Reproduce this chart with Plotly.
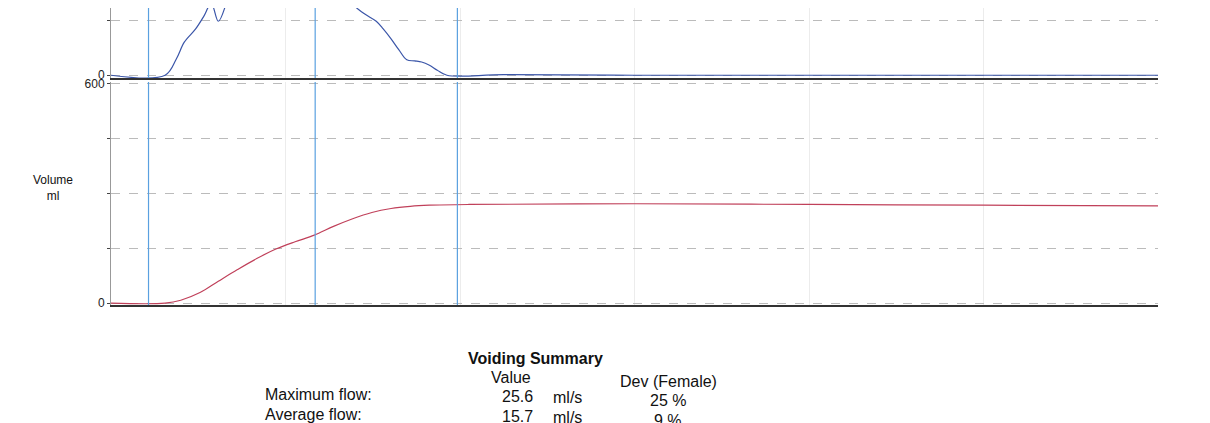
import plotly.graph_objects as go
from plotly.subplots import make_subplots

# flow curve (ml/s) vs time (s); peak is off the top of the cropped page
flow_t = [0, 6.2, 7.5, 8.4, 9.7, 10.6, 11.5, 12.3, 13.2, 15, 18, 20, 23, 26, 27.7,
          29, 30.4, 31.2, 32.1, 33.0, 33.9, 34.8, 35.6, 36.5, 37.4, 38.5, 45, 60, 80, 100, 120]
flow_v = [0, 0, 1.5, 3.0, 4.2, 5.3, 6.5, 4.9, 6.5, 12, 22, 25.6, 20, 10, 6.5,
          5.6, 4.9, 4.2, 3.3, 2.3, 1.4, 1.3, 1.2, 0.9, 0.45, 0, 0.05, 0, 0, 0, 0]

# volume curve (ml)
vol_t = [0, 6.2, 8, 10.2, 12.3, 14.5, 16.7, 18.9, 21.1, 23.3, 25.5, 27.7, 29.9,
         32.1, 34.3, 36.5, 41, 60, 80, 100, 120]
vol_v = [0, 0, 8, 29, 60, 92, 122, 148, 168, 186, 210, 231, 248,
         259, 265, 268, 270, 272, 270, 268, 266]

markers = [4.3, 23.4, 39.7]

summary_rows = ["Maximum flow:", "Average flow:", "Voiding time:"]
summary_vals = ["25.6", "15.7", ""]
summary_units = ["ml/s", "ml/s", ""]
summary_dev = ["25 %", "9 %", ""]

H = 423.0
def py(px):
    return 1 - px / H

fig = make_subplots(rows=2, cols=1, shared_xaxes=True)
fig.add_trace(go.Scatter(x=flow_t, y=flow_v, mode="lines", line_shape="spline",
                         line=dict(color="#3a55a8", width=1.2)), row=1, col=1)
fig.add_trace(go.Scatter(x=vol_t, y=vol_v, mode="lines", line_shape="spline",
                         line=dict(color="#c0405a", width=1.2)), row=2, col=1)

for m in markers:
    for r in (1, 2):
        fig.add_vline(x=m, line=dict(color="#5aa0e0", width=1.2), row=r, col=1)

grid_x = [20, 40, 60, 80, 100]
for axis in ("xaxis", "xaxis2"):
    fig.layout[axis].update(range=[0, 120], tickvals=grid_x, showticklabels=False,
                            showgrid=True, gridcolor="#ececec", zeroline=False,
                            showline=True, linecolor="#333", linewidth=2, ticks="",
                            automargin=False)

fig.update_layout(
    xaxis=dict(domain=[103 / 1210, 1150 / 1210]),
    xaxis2=dict(domain=[103 / 1210, 1150 / 1210]),
    yaxis=dict(domain=[py(70), 1], range=[-0.25, 6.1], tickvals=[0, 5], ticktext=["0", ""],
               showgrid=True, gridcolor="#bbb", griddash="dash", zeroline=False,
               showline=True, linecolor="#999", ticks="outside", ticklen=3,
               automargin=False, tickfont=dict(size=12)),
    yaxis2=dict(domain=[py(297), py(74)], range=[-5, 605], tickvals=[0, 150, 300, 450, 600],
                ticktext=["0", "", "", "", "600"], showgrid=True, gridcolor="#bbb",
                griddash="dash", zeroline=False, showline=True, linecolor="#999",
                ticks="outside", ticklen=3, automargin=False, tickfont=dict(size=12)),
    font=dict(family="Liberation Sans, Arial", size=12, color="#222"),
    paper_bgcolor="white", plot_bgcolor="white", showlegend=False,
    margin=dict(l=0, r=0, t=0, b=0, pad=0), width=1210, height=423,
)

ann = [
    dict(x=45, y=180, text="Volume<br>ml", xanchor="center", size=12),
    dict(x=527, y=350, text="<b>Voiding Summary</b>", xanchor="center", size=16),
    dict(x=503, y=369, text="Value", xanchor="center", size=16),
    dict(x=660, y=373, text="Dev (Female)", xanchor="center", size=16),
]
for i, row in enumerate(summary_rows):
    y0 = 386 + 20 * i
    ann.append(dict(x=255, y=y0, text=row, xanchor="left", size=16))
    ann.append(dict(x=527, y=y0 + 2, text=summary_vals[i], xanchor="right", size=16))
    ann.append(dict(x=543, y=y0 + 3, text=summary_units[i], xanchor="left", size=16))
    ann.append(dict(x=660, y=y0 + 6, text=summary_dev[i], xanchor="center", size=16))

for a in ann:
    fig.add_annotation(x=a["x"] / 1210, y=py(a["y"]), xref="paper", yref="paper",
                       text=a["text"], showarrow=False, xanchor=a["xanchor"],
                       yanchor="middle", font=dict(size=a["size"], color="#111"))

fig.write_html("out.html")
